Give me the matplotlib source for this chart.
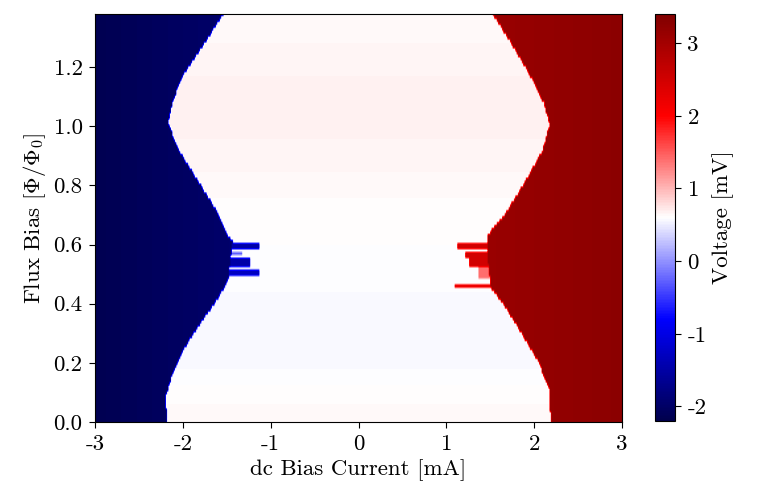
import numpy as np
import matplotlib
matplotlib.use("Agg")
import matplotlib.pyplot as plt

plt.rcParams['font.family'] = 'cmr10'
plt.rcParams['mathtext.fontset'] = 'cm'
plt.rcParams['axes.unicode_minus'] = False
plt.rcParams['font.size'] = 16.5
plt.rcParams['xtick.major.size'] = 4.5
plt.rcParams['ytick.major.size'] = 4.5
plt.rcParams['xtick.major.pad'] = 4.2
plt.rcParams['ytick.major.pad'] = 4.5

# ---- data ----
# measurement grid
current_min, current_max, n_current = -3.0, 3.0, 401
flux_max, flux_step = 1.38, 0.01

# switching-current boundary, negative side (flux, current in mA)
left_flux = [0.0, 0.014, 0.081, 0.136, 0.227, 0.319, 0.407, 0.475, 0.556, 0.61,
             0.634, 0.72, 0.83, 0.92, 1.01, 1.08, 1.17, 1.285, 1.38]
left_ic = [-2.18, -2.18, -2.20, -2.15, -2.03, -1.84, -1.63, -1.49, -1.46, -1.44,
           -1.50, -1.63, -1.86, -2.05, -2.17, -2.12, -2.01, -1.75, -1.54]

# switching-current boundary, positive side
right_flux = [0.0, 0.014, 0.115, 0.203, 0.295, 0.386, 0.454, 0.556, 0.634, 0.70,
              0.72, 0.83, 0.92, 1.01, 1.08, 1.17, 1.285, 1.38]
right_ic = [2.18, 2.18, 2.16, 2.04, 1.86, 1.67, 1.50, 1.46, 1.47, 1.65,
            1.70, 1.92, 2.09, 2.17, 2.10, 1.95, 1.725, 1.52]

# voltage on the resistive branches (current mA -> voltage mV)
left_branch_i = [-3.0, -1.4]
left_branch_v = [-2.15, -1.95]
right_branch_i = [1.4, 3.0]
right_branch_v = [3.10, 3.26]

# faint background voltage inside the zero-voltage region
bg_flux = [0.0, 0.1, 0.2, 0.3, 0.4, 0.5, 0.6, 0.7, 0.8, 0.9, 1.0, 1.1, 1.2, 1.3, 1.38]
bg_v = [0.64, 0.61, 0.57, 0.56, 0.57, 0.59, 0.60, 0.61, 0.63, 0.66, 0.67, 0.68,
        0.66, 0.64, 0.62]

# switching stripes near half flux quantum
left_stripe_lo = [0.59, 0.565, 0.53, 0.50]
left_stripe_hi = [0.60, 0.57, 0.55, 0.51]
left_stripe_reach = [-1.14, -1.33, -1.24, -1.14]
left_stripe_v = [-1.5, -0.3, -1.5, -1.3]

right_stripe_lo = [0.59, 0.56, 0.53, 0.49, 0.46]
right_stripe_hi = [0.60, 0.57, 0.55, 0.52, 0.46]
right_stripe_reach = [1.12, 1.21, 1.25, 1.36, 1.09]
right_stripe_v = [2.5, 2.5, 2.5, 1.4, 2.5]

vmin, vmax = -2.2, 3.4
x_ticks = [-3, -2, -1, 0, 1, 2, 3]
x_labels = ['-3', '-2', '-1', '0', '1', '2', '3']
y_ticks = [0.0, 0.2, 0.4, 0.6, 0.8, 1.0, 1.2]
y_labels = ['0.0', '0.2', '0.4', '0.6', '0.8', '1.0', '1.2']
cb_ticks = [-2, -1, 0, 1, 2, 3]
cb_labels = ['-2', '-1', '0', '1', '2', '3']

# ---- build voltage map ----
current = np.linspace(current_min, current_max, n_current)
flux = np.arange(0, flux_max + flux_step / 2, flux_step)
lb = np.interp(flux, left_flux, left_ic)
rb = np.interp(flux, right_flux, right_ic)
bg = np.interp(flux, bg_flux, bg_v)
vl = np.interp(current, left_branch_i, left_branch_v)
vr = np.interp(current, right_branch_i, right_branch_v)

V = np.empty((len(flux), len(current)))
for i, f in enumerate(flux):
    row = np.full(len(current), bg[i])
    row[current <= lb[i]] = vl[current <= lb[i]]
    row[current >= rb[i]] = vr[current >= rb[i]]
    for lo, hi, reach, v in zip(left_stripe_lo, left_stripe_hi, left_stripe_reach, left_stripe_v):
        if lo - 1e-9 <= f <= hi + 1e-9:
            m = (current > lb[i]) & (current <= reach)
            row[m] = v
    for lo, hi, reach, v in zip(right_stripe_lo, right_stripe_hi, right_stripe_reach, right_stripe_v):
        if lo - 1e-9 <= f <= hi + 1e-9:
            m = (current < rb[i]) & (current >= reach)
            row[m] = v
    V[i] = row

dx = current[1] - current[0]
fig = plt.figure(figsize=(7.57, 5.04), dpi=100)
ax = fig.add_axes([95 / 757, 1 - 422 / 504, 527 / 757, 408 / 504])
im = ax.imshow(V, origin='lower', aspect='auto', cmap='seismic', vmin=vmin, vmax=vmax,
               extent=[current[0] - dx / 2, current[-1] + dx / 2,
                       flux[0] - flux_step / 2, flux[-1] + flux_step / 2],
               interpolation='bilinear', interpolation_stage='data')
ax.set_xlim(-3, 3)
ax.set_ylim(0, flux_max)
ax.set_xticks(x_ticks)
ax.set_xticklabels(x_labels)
ax.set_yticks(y_ticks)
ax.set_yticklabels(y_labels)
ax.set_xlabel('dc Bias Current [mA]')
ax.set_ylabel(r'Flux Bias [$\Phi/\Phi_0$]')

cax = fig.add_axes([655 / 757, 1 - 421 / 504, 20 / 757, 407 / 504])
cb = fig.colorbar(im, cax=cax)
cb.set_ticks(cb_ticks)
cb.set_ticklabels(cb_labels)
cb.set_label('Voltage [mV]')

fig.savefig('out.png', dpi=100)
